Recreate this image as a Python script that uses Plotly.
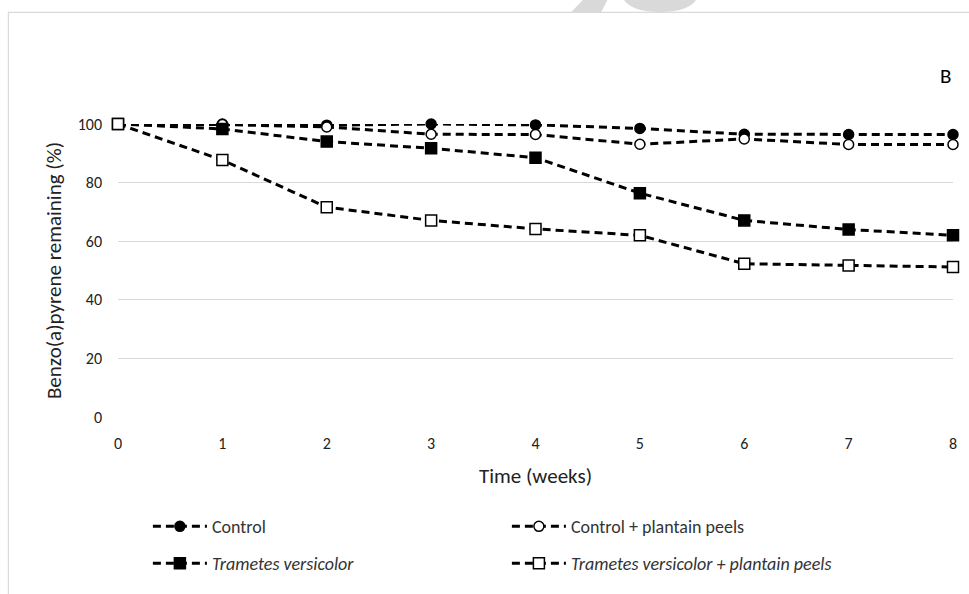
import plotly.graph_objects as go

weeks = [0, 1, 2, 3, 4, 5, 6, 7, 8]
control = [100, 100, 99.6, 100, 99.7, 98.5, 96.5, 96.4, 96.4]
control_pp = [100, 99.8, 99.0, 96.5, 96.4, 93.1, 94.9, 93.0, 93.0]
trametes = [100, 98.3, 94.0, 91.7, 88.5, 76.4, 67.1, 64.0, 62.0]
trametes_pp = [100, 87.7, 71.6, 67.1, 64.2, 62.0, 52.3, 51.7, 51.2]

FONT = "Carlito, Calibri, Lato, sans-serif"
DASH = "8px,5px"

series = [
    ("Control", control, "circle", "black", "legend"),
    ("Control + plantain peels", control_pp, "circle", "white", "legend"),
    ("<i>Trametes versicolor</i>", trametes, "square", "black", "legend2"),
    ("<i>Trametes versicolor + plantain peels</i>", trametes_pp, "square", "white", "legend2"),
]

fig = go.Figure()
for name, vals, sym, fill, leg in series:
    fig.add_trace(go.Scatter(
        x=weeks, y=vals, name=name, mode="lines+markers", legend=leg,
        line=dict(color="black", width=3, dash=DASH),
        marker=dict(symbol=sym, size=11 if sym == "square" else 10, color=fill,
                    line=dict(color="black", width=1.5)),
        cliponaxis=False,
    ))

W0, W1, H0, H1 = 118, 956, 124, 418
def px(x):
    return (x - W0) / (W1 - W0)
def py(y):
    return (H1 - y) / (H1 - H0)

legend_common = dict(orientation="h", xanchor="left", yanchor="middle",
                     entrywidth=290, entrywidthmode="pixels", itemwidth=54,
                     font=dict(family=FONT, size=18, color="#333333"),
                     bgcolor="rgba(0,0,0,0)")

fig.update_layout(
    width=969, height=594,
    margin=dict(l=118, r=13, t=124, b=176),
    paper_bgcolor="white", plot_bgcolor="white",
    font=dict(family=FONT, size=16, color="#000000"),
    showlegend=True,
    legend=dict(x=px(148), y=py(528), **legend_common),
    legend2=dict(x=px(148), y=py(565), **legend_common),
    xaxis=dict(range=[0, 8], tickvals=weeks, showgrid=False, zeroline=False,
               showline=False, ticks="", ticklabelstandoff=15,
               tickfont=dict(size=16, color="#222222"),
               title=dict(text="Time (weeks)", standoff=16,
                          font=dict(size=21, color="#222222"))),
    yaxis=dict(range=[0, 100], tickvals=[0, 20, 40, 60, 80, 100],
               showgrid=True, gridcolor="#d9d9d9", gridwidth=1,
               zeroline=False, showline=False, ticks="", ticklabelstandoff=15,
               tickfont=dict(size=16, color="#222222"),
               title=dict(text="Benzo(a)pyrene remaining (%)", standoff=10,
                          font=dict(size=21, color="#222222"))),
    annotations=[dict(text="B", xref="paper", yref="paper", x=px(948), y=py(76),
                      xanchor="center", yanchor="middle", showarrow=False,
                      font=dict(size=21, color="#000000"))],
)

# Outer frame (light gray) and faint watermark fragment at the top
fig.add_shape(type="rect", xref="paper", yref="paper",
              x0=px(8), x1=px(1000), y0=py(12), y1=py(700),
              line=dict(color="#d9d9d9", width=1.2), fillcolor="rgba(0,0,0,0)", layer="below")
fig.add_shape(type="path", xref="paper", yref="paper",
              path=f"M {px(586)} {py(-2)} L {px(610)} {py(-2)} L {px(603)} {py(11.5)} L {px(573)} {py(11.5)} Z",
              line=dict(width=0), fillcolor="#d9d9d9", layer="below")
fig.add_shape(type="path", xref="paper", yref="paper",
              path=(f"M {px(625)} {py(-2)} L {px(699)} {py(-2)} "
                    f"Q {px(692)} {py(11.5)} {px(662)} {py(11.5)} "
                    f"Q {px(632)} {py(11.5)} {px(625)} {py(-2)} Z"),
              line=dict(width=0), fillcolor="#d9d9d9", layer="below")

fig.write_html("out.html")
